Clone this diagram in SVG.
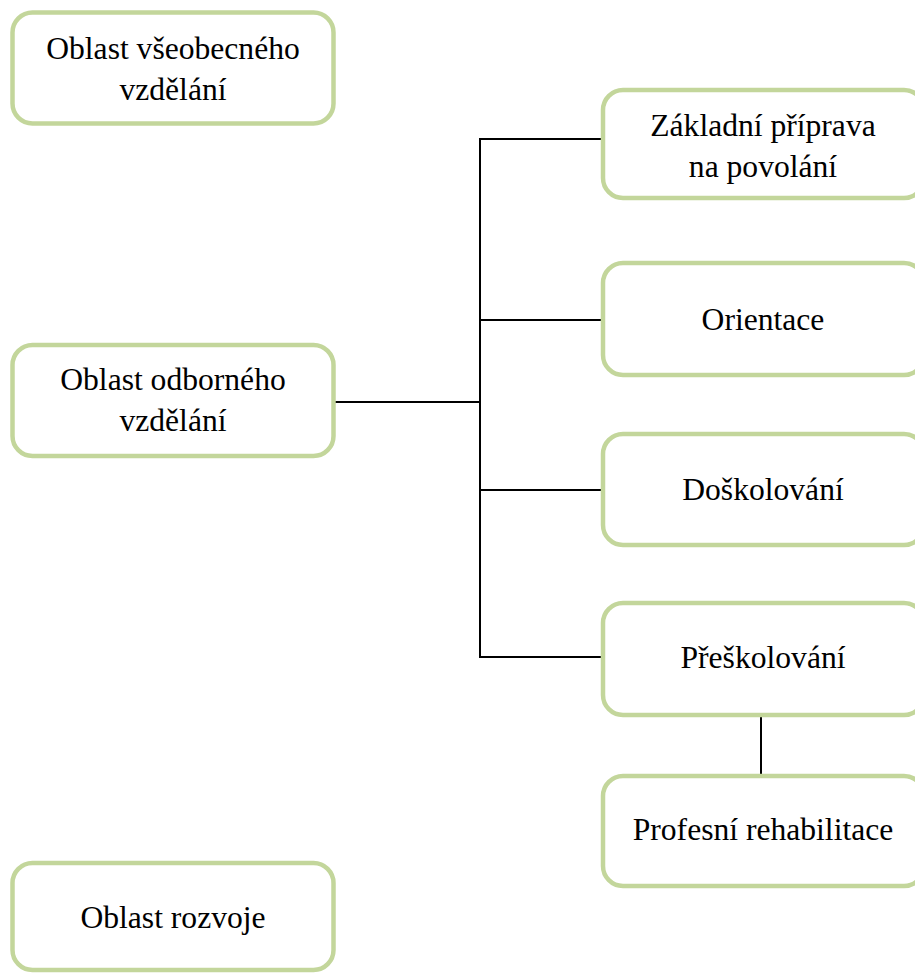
<svg xmlns="http://www.w3.org/2000/svg" width="915" height="974" viewBox="0 0 915 974">
<style>
.box{fill:#ffffff;stroke:#c3d69b;stroke-width:4.5}
.t{font-family:"Liberation Serif","Times New Roman",serif;font-size:31.6px;fill:#000;text-anchor:middle}
.c{stroke:#000;stroke-width:2;fill:none}
</style>
<rect width="915" height="974" fill="#ffffff"/>
<g id="connectors">
<line class="c" x1="334" y1="402" x2="480" y2="402"/>
<line class="c" x1="480" y1="139" x2="480" y2="658"/>
<line class="c" x1="479" y1="139" x2="603" y2="139"/>
<line class="c" x1="479" y1="320" x2="603" y2="320"/>
<line class="c" x1="479" y1="490" x2="603" y2="490"/>
<line class="c" x1="479" y1="657" x2="603" y2="657"/>
<line class="c" x1="761" y1="717" x2="761" y2="776"/>
</g>
<g id="n1">
<rect class="box" x="12.5" y="12.5" width="321" height="111" rx="20"/>
<text class="t" x="173" y="59">Oblast všeobecného</text>
<text class="t" x="173" y="100">vzdělání</text>
</g>
<g id="n2">
<rect class="box" x="12.5" y="345" width="321" height="111" rx="20"/>
<text class="t" x="173" y="390">Oblast odborného</text>
<text class="t" x="173" y="431">vzdělání</text>
</g>
<g id="n3">
<rect class="box" x="12.5" y="863" width="321" height="107" rx="20"/>
<text class="t" x="173" y="928">Oblast rozvoje</text>
</g>
<g id="n4">
<rect class="box" x="603" y="90" width="321" height="108" rx="20"/>
<text class="t" x="763" y="136">Základní příprava</text>
<text class="t" x="763" y="177">na povolání</text>
</g>
<g id="n5">
<rect class="box" x="603" y="263" width="321" height="112" rx="20"/>
<text class="t" x="763" y="330">Orientace</text>
</g>
<g id="n6">
<rect class="box" x="603" y="434" width="321" height="111" rx="20"/>
<text class="t" x="763" y="500">Doškolování</text>
</g>
<g id="n7">
<rect class="box" x="603" y="603" width="321" height="112" rx="20"/>
<text class="t" x="763" y="668">Přeškolování</text>
</g>
<g id="n8">
<rect class="box" x="603" y="776" width="321" height="110" rx="20"/>
<text class="t" x="763" y="840">Profesní rehabilitace</text>
</g>
</svg>
